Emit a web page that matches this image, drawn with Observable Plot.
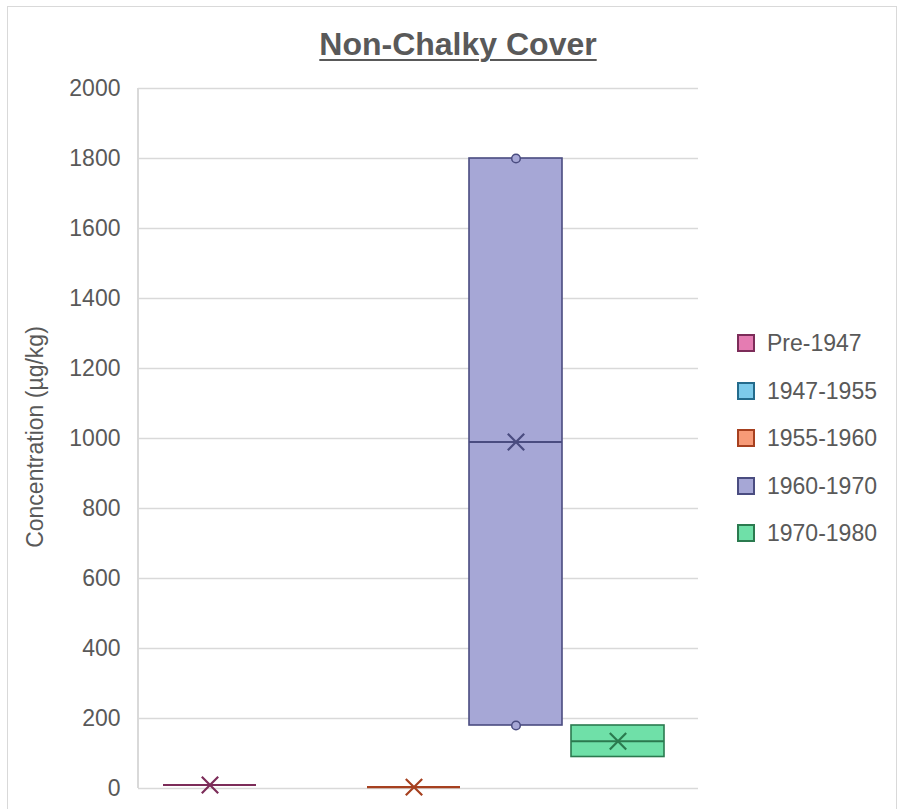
<!DOCTYPE html>
<html><head><meta charset="utf-8">
<script src="https://cdn.jsdelivr.net/npm/d3@7"></script>
<script src="https://cdn.jsdelivr.net/npm/@observablehq/plot@0.6"></script>
<style>
body{margin:0;background:#fff;}
#wrap{position:relative;width:902px;height:809px;overflow:hidden;font-family:"Liberation Sans",Arial,sans-serif;color:#595959;background:#fff;}
#border{position:absolute;left:7px;top:6px;width:888px;height:850px;border:1.5px solid #d9d9d9;}
#title{position:absolute;left:458px;top:29px;transform:translateX(-50%);font-size:32px;line-height:30px;font-weight:bold;white-space:nowrap;text-decoration:underline;text-decoration-thickness:2px;text-underline-offset:4px;}
#ylabel{position:absolute;left:35px;top:437px;transform:translate(-50%,-50%) rotate(-90deg);font-size:23px;white-space:nowrap;}
#chart{position:absolute;left:0;top:0;}
#leftline{position:absolute;left:137px;top:88px;width:1.5px;height:700px;background:#d9d9d9;}
.leg{position:absolute;left:737px;height:24px;display:flex;align-items:center;font-size:23px;white-space:nowrap;}
.sw{width:14px;height:14px;border:2px solid;margin-right:12px;box-sizing:content-box;}
</style></head>
<body>
<div id="wrap">
  <div id="border"></div>
  <div id="leftline"></div>
  <div id="chart"></div>
  <div id="title">Non-Chalky Cover</div>
  <div id="ylabel">Concentration (µg/kg)</div>
  <div id="legend"></div>
</div>
<script>
const periods = ["Pre-1947", "1947-1955", "1955-1960", "1960-1970", "1970-1980"];
const fillColors = ["#e57cb2", "#7dcbeb", "#f79a77", "#a6a7d6", "#6fe0a8"];
const strokeColors = ["#7c2c59", "#246b8c", "#a6401f", "#4a4c80", "#2b7a4f"];
const q1 = [10, null, 4, 180, 90];
const q3 = [10, null, 4, 1800, 180];
const medians = [10, null, 4, 990, 135];
const means = [10, null, 4, 990, 135];
const innerPointPeriods = ["1960-1970", "1960-1970"];
const innerPointValues = [180, 1800];
const yTicks = [0, 200, 400, 600, 800, 1000, 1200, 1400, 1600, 1800, 2000];

const idx = p => periods.indexOf(p);
const boxes = periods.map((p, i) => ({period: p, q1: q1[i], q3: q3[i], median: medians[i], mean: means[i]}))
  .filter(d => d.q1 != null);
const points = innerPointPeriods.map((p, i) => ({period: p, value: innerPointValues[i]}));
const fillOf = d => fillColors[idx(d.period)];
const strokeOf = d => strokeColors[idx(d.period)];

const chart = Plot.plot({
  width: 902,
  height: 809,
  marginLeft: 138,
  marginRight: 204,
  marginTop: 88,
  marginBottom: 21,
  style: {fontFamily: '"Liberation Sans", Arial, sans-serif', fontSize: "23px", color: "#595959", background: "transparent", overflow: "visible"},
  x: {type: "band", domain: periods, range: [161, 667], paddingInner: 0.087, paddingOuter: 0, axis: null},
  y: {domain: [0, 2000]},
  color: {type: "identity"},
  marks: [
    Plot.ruleY(yTicks, {stroke: "#d9d9d9", strokeWidth: 1.4}),
    Plot.axisY(yTicks, {tickSize: 0, tickPadding: 18, fontSize: 23, fill: "#595959", label: null, tickFormat: d => String(d)}),
    Plot.barY(boxes.filter(d => d.q3 > d.q1), {x: "period", y1: "q1", y2: "q3", fill: fillOf, stroke: strokeOf, strokeWidth: 1.6}),
    Plot.tickY(boxes, {x: "period", y: "median", stroke: strokeOf, strokeWidth: 2.2}),
    Plot.dot(points, {x: "period", y: "value", r: 4.3, fill: d => fillOf(d), stroke: strokeOf, strokeWidth: 1.5}),
    Plot.dot(boxes, {x: "period", y: "mean", symbol: "times", r: 7.5, stroke: strokeOf, strokeWidth: 2.2})
  ]
});
document.getElementById("chart").appendChild(chart);

const legend = document.getElementById("legend");
const legendY = [343, 391, 438, 486, 533];
periods.forEach((p, i) => {
  const row = document.createElement("div");
  row.className = "leg";
  row.style.top = (legendY[i] - 12) + "px";
  const sw = document.createElement("div");
  sw.className = "sw";
  sw.style.background = fillColors[i];
  sw.style.borderColor = strokeColors[i];
  const t = document.createElement("span");
  t.textContent = p;
  row.appendChild(sw);
  row.appendChild(t);
  legend.appendChild(row);
});
</script>
</body></html>
